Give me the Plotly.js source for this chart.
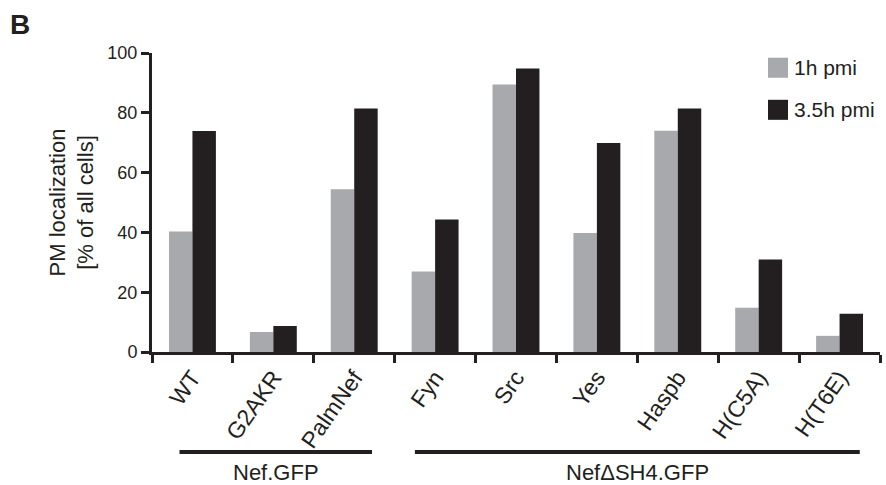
<!DOCTYPE html>
<html>
<head>
<meta charset="utf-8">
<script src="https://cdn.plot.ly/plotly-3.0.1.min.js"></script>
<style>html,body{margin:0;padding:0;background:#fff;}#chart{width:886px;height:485px;}</style>
</head>
<body>
<div id="chart"></div>
<script>
// ---- data ----
const categories = ["WT", "G2AKR", "PalmNef", "Fyn", "Src", "Yes", "Haspb", "H(C5A)", "H(T6E)"];
const seriesNames = ["1h pmi", "3.5h pmi"];
const values1h = [40.3, 6.7, 54.4, 26.9, 89.5, 39.8, 74.0, 14.8, 5.4];
const values35h = [73.9, 8.7, 81.4, 44.3, 94.8, 69.9, 81.4, 30.9, 12.8];
const yTickVals = [0, 20, 40, 60, 80, 100];
const groupLabels = ["Nef.GFP", "Nef\u0394SH4.GFP"];
const yTitle = "PM localization<br>[% of all cells]";
const panelLabel = "B";

// ---- style ----
const GRAY = "#a7a9ac";
const DARK = "#231f20";
const FONT = "Liberation Sans, Arial, Helvetica, sans-serif";
const colors = [GRAY, DARK];

const traces = [values1h, values35h].map((v, i) => ({
  type: "bar",
  name: seriesNames[i],
  x: categories,
  y: v,
  marker: {color: colors[i], line: {width: 0}},
  showlegend: false
}));

// paper coordinates helpers
const L = 152, R = 880, T = 53.3, B = 351.7;
const px = x => (x - L) / (R - L);
const py = y => (B - y) / (B - T);

const shapes = [
  // group brackets (data x positions between categories)
  {type: "line", xref: "x", yref: "paper", x0: -0.16, x1: 2.22, y0: py(451.5), y1: py(451.5), line: {color: DARK, width: 4}},
  {type: "line", xref: "x", yref: "paper", x0: 2.75, x1: 8.25, y0: py(451.5), y1: py(451.5), line: {color: DARK, width: 4}},
  // legend swatches
  {type: "rect", xref: "paper", yref: "paper", x0: px(768), x1: px(788), y0: py(78), y1: py(58), fillcolor: GRAY, line: {width: 0}},
  {type: "rect", xref: "paper", yref: "paper", x0: px(768), x1: px(788), y0: py(120), y1: py(100), fillcolor: DARK, line: {width: 0}}
];

const annotations = [
  {text: groupLabels[0], xref: "x", yref: "paper", x: 1.03, y: py(472), showarrow: false, xanchor: "center", yanchor: "middle", font: {family: FONT, size: 22, color: DARK}},
  {text: groupLabels[1], xref: "x", yref: "paper", x: 5.5, y: py(472), showarrow: false, xanchor: "center", yanchor: "middle", font: {family: FONT, size: 22, color: DARK}},
  {text: seriesNames[0], xref: "paper", yref: "paper", x: px(792), y: py(68), showarrow: false, xanchor: "left", yanchor: "middle", font: {family: FONT, size: 21, color: DARK}},
  {text: seriesNames[1], xref: "paper", yref: "paper", x: px(792), y: py(110), showarrow: false, xanchor: "left", yanchor: "middle", font: {family: FONT, size: 21, color: DARK}},
  {text: "<b>" + panelLabel + "</b>", xref: "paper", yref: "paper", x: px(8), y: py(25), showarrow: false, xanchor: "left", yanchor: "middle", font: {family: FONT, size: 28, color: DARK}}
];

const layout = {
  width: 886, height: 485,
  margin: {l: L, r: 886 - R, t: T, b: 485 - B},
  paper_bgcolor: "#fff", plot_bgcolor: "#fff",
  barmode: "group", bargap: 0.42, bargroupgap: 0,
  font: {family: FONT, color: DARK},
  xaxis: {
    type: "category",
    showline: true, linecolor: DARK, linewidth: 3,
    ticks: "outside", tickson: "boundaries", ticklen: 8, tickwidth: 3, tickcolor: DARK,
    tickangle: -55, tickfont: {family: FONT, size: 23, color: DARK},
    showgrid: false, zeroline: false
  },
  yaxis: {
    range: [0, 100], tickvals: yTickVals,
    showline: true, linecolor: DARK, linewidth: 3,
    ticks: "outside", ticklen: 8, tickwidth: 3, tickcolor: DARK,
    tickfont: {family: FONT, size: 18, color: DARK},
    showgrid: false, zeroline: false,
    title: {text: yTitle, font: {family: FONT, size: 22, color: DARK}, standoff: 8}
  },
  shapes: shapes,
  annotations: annotations,
  showlegend: false
};

Plotly.newPlot("chart", traces, layout, {displayModeBar: false, staticPlot: true});
</script>
</body>
</html>
